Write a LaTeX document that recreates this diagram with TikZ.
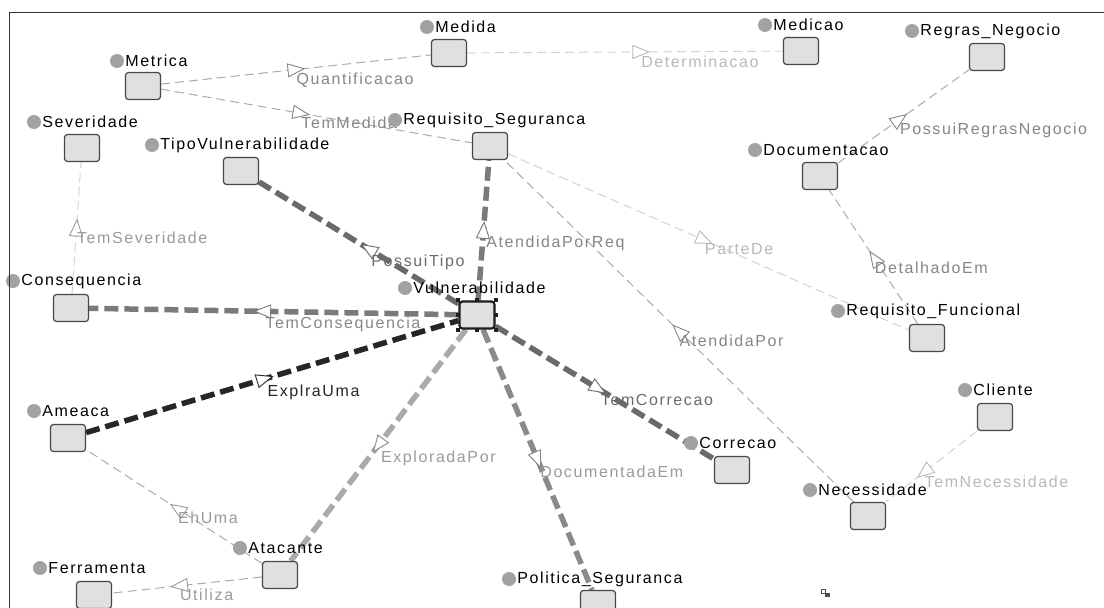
\documentclass[tikz,border=0pt]{standalone}
\usepackage{fontspec}
\setsansfont{Liberation Sans}[LetterSpace=10]
\usepackage{tikz}
\usetikzlibrary{decorations.markings, backgrounds}
\definecolor{boxFill}  {HTML}{E0E0E0}
\definecolor{boxDraw}  {HTML}{474747}
\definecolor{vulnDraw} {HTML}{1E1E1E}
\definecolor{dotGray}  {HTML}{A2A2A2}
\definecolor{edgeMid}  {HTML}{ABABAB}
\definecolor{edgeLight}{HTML}{D2D2D2}
\definecolor{txtMid}   {HTML}{868686}
\definecolor{txtSoft}  {HTML}{9A9A9A}
\definecolor{txtLight} {HTML}{B8B8B8}
\definecolor{thickDark}{HTML}{262626}
\definecolor{thickGray}{HTML}{6A6A6A}
\definecolor{thickMid} {HTML}{7A7A7A}
\definecolor{thickSoft}{HTML}{8A8A8A}
\definecolor{thickPale}{HTML}{AAAAAA}
\colorlet{tricol}{txtMid}
\tikzset{
  tricol/.code={\colorlet{tricol}{#1}},
  tritip/.style={solid, line width=.9pt, draw=tricol, fill=white},
  tri/.style={postaction={decorate, decoration={markings,
      mark=at position #1 with {\draw[tritip] (8pt,0pt) -- (-8pt,6.5pt) -- (-8pt,-6.5pt) -- cycle;}}}},
}

\begin{document}
\begin{tikzpicture}[x=1pt, y=-1pt,
    cls/.style={draw=boxDraw, fill=boxFill, rounded corners=3pt, line width=1.2pt,
                minimum width=35pt, minimum height=27pt, inner sep=0pt},
    clsdot/.style={circle, fill=dotGray, minimum size=14pt, inner sep=0pt},
    clslbl/.style={anchor=west, inner sep=1pt, font=\sffamily\fontsize{16}{18}\selectfont, text=black},
    rel/.style={draw=#1, line width=1pt, dash pattern=on 9pt off 5pt},
    relthick/.style={draw=#1, line width=5.5pt, dash pattern=on 14pt off 6pt},
    rellbl/.style={anchor=north west, inner sep=1pt, xshift=-1pt, yshift=-2pt,
                   font=\sffamily\fontsize{16}{18}\selectfont, text=#1},
  ]
  \useasboundingbox (0,0) rectangle (1104,608);
  \clip (0,0) rectangle (1104,608);

  % classes: box, dot and name
  \foreach \name/\bx/\by/\dx/\dy/\txt in {
      metrica/143/86/117/61/Metrica,
      medida/449/53/427/27/Medida,
      medicao/801/51/765/25/Medicao,
      regras/987/57/912/31/Regras\_Negocio,
      severidade/82/148/34/122/Severidade,
      tipo/241/171/152/145/TipoVulnerabilidade,
      reqseg/490/146/395/120/Requisito\_Seguranca,
      doc/820/176/755/150/Documentacao,
      conseq/71/308/13/281/Consequencia,
      vuln/477/315/405/288/Vulnerabilidade,
      reqfunc/927/338/838/311/Requisito\_Funcional,
      cliente/995/417/965/390/Cliente,
      ameaca/68/438/34/411/Ameaca,
      correcao/732/470/691/443/Correcao,
      necess/868/516/810/490/Necessidade,
      atacante/280/575/240/548/Atacante,
      ferramenta/94/595/40/568/Ferramenta,
      politica/598/604/509/579/Politica\_Seguranca}{
    \node[cls] (\name) at (\bx,\by) {};
    \node[clsdot] (\name-dot) at (\dx,\dy) {};
    \node[clslbl] (\name-lbl) at (\name-dot.east) {\txt};
  }
  % selected class
  \node[cls, draw=vulnDraw, line width=2.2pt] (vuln) at (477,315) {};
  \foreach \a in {north west, north, north east, east, south east, south, south west, west}
    \fill[vulnDraw] (vuln.\a) ++(-2,-2) rectangle ++(4,4);

  \begin{scope}[on background layer]
    % thin relations
    \draw[rel=edgeMid, tricol=txtMid, tri=.5] (metrica) -- node[pos=.5, rellbl=txtMid] (quant) {Quantificacao} (medida);
    \draw[rel=edgeLight, tricol=txtLight, tri=.55] (medida) -- node[pos=.55, rellbl=txtLight] (determ) {Determinacao} (medicao);
    \draw[rel=edgeMid, tricol=txtMid, tri=.45] (metrica) -- node[pos=.45, rellbl=txtMid] (temmed) {TemMedida} (reqseg);
    \draw[rel=edgeLight, tricol=txtSoft, tri=.5] (conseq) -- node[pos=.5, rellbl=txtSoft] (temsev) {TemSeveridade} (severidade);
    \draw[rel=edgeLight, tricol=txtLight, tri=.49] (reqseg) -- node[pos=.49, rellbl=txtLight] (partede) {ParteDe} (reqfunc);
    \draw[rel=edgeMid, tricol=txtMid, tri=.5] (necess) -- node[pos=.5, rellbl=txtMid] (atpor) {AtendidaPor} (reqseg);
    \draw[rel=edgeMid, tricol=txtMid, tri=.47] (doc) -- node[pos=.47, rellbl=txtMid] (possuirn) {PossuiRegrasNegocio} (regras);
    \draw[rel=edgeMid, tricol=txtMid, tri=.49] (reqfunc) -- node[pos=.49, rellbl=txtMid] (detem) {DetalhadoEm} (doc);
    \draw[rel=edgeMid, tricol=txtSoft, tri=.48] (atacante) -- node[pos=.48, rellbl=txtSoft] (ehuma) {EhUma} (ameaca);
    \draw[rel=edgeMid, tricol=txtSoft, tri=.55] (atacante) -- node[pos=.55, rellbl=txtSoft] (utiliza) {Utiliza} (ferramenta);
    \draw[rel=edgeLight, tricol=txtLight, tri=.58] (cliente) -- node[pos=.58, rellbl=txtLight] (temnec) {TemNecessidade} (necess);
    % thick relations of Vulnerabilidade
    \draw[relthick=thickGray, tricol=thickGray, tri=.45] (vuln) -- node[pos=.45, rellbl=thickGray] (possuitipo) {PossuiTipo} (tipo);
    \draw[relthick=thickMid, tricol=thickMid, tri=.5] (vuln) -- node[pos=.5, rellbl=txtMid] (atporreq) {AtendidaPorReq} (reqseg);
    \draw[relthick=thickMid, tricol=thickMid, tri=.53] (vuln) -- node[pos=.53, rellbl=txtMid] (temcons) {TemConsequencia} (conseq);
    \draw[relthick=thickDark, tricol=thickDark, tri=.48] (ameaca) -- node[pos=.48, rellbl=thickDark] (explra) {ExplraUma} (vuln);
    \draw[relthick=thickGray, tricol=thickGray, tri=.47] (vuln) -- node[pos=.47, rellbl=thickGray] (temcorr) {TemCorrecao} (correcao);
    \draw[relthick=thickPale, tricol=thickSoft, tri=.5] (vuln) -- node[pos=.5, rellbl=txtSoft] (explpor) {ExploradaPor} (atacante);
    \draw[relthick=thickSoft, tricol=thickSoft, tri=.5] (vuln) -- node[pos=.5, rellbl=txtSoft] (docem) {DocumentadaEm} (politica);
  \end{scope}

  % frame and small icon
  \draw[line width=1pt, black!80] (9,608) -- (9,12) -- (1104,12);
  \draw[line width=.6pt, black!70] (821,589) rectangle (825,593);
  \fill[black!70] (825,593) rectangle (830,597);
\end{tikzpicture}
\end{document}
